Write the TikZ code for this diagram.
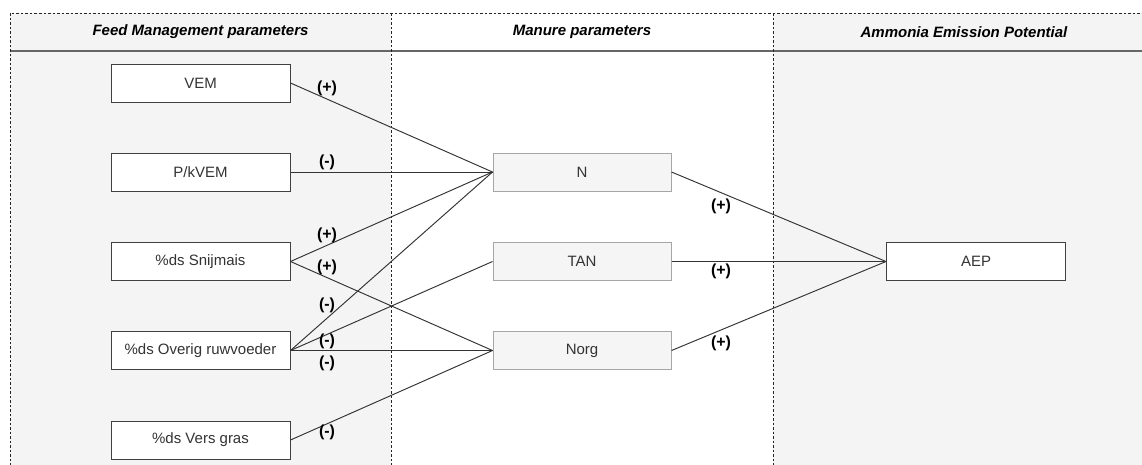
\documentclass[tikz,border=0pt]{standalone}
\usepackage{fontspec}
\setmainfont{Liberation Sans}
\begin{document}
\begin{tikzpicture}[x=1pt,y=-1pt,
  lane/.style={fill=lanegray,draw=none},
  hdr/.style={font=\fontsize{15}{17}\selectfont\bfseries\itshape},
  feedbox/.style={draw=black!75,line width=1pt,fill=white,minimum width=179pt,minimum height=38pt,font=\fontsize{15}{17}\selectfont,text=black!80,inner sep=0pt},
  manbox/.style={draw=black!35,line width=1pt,fill=boxgray,minimum width=178pt,minimum height=38pt,font=\fontsize{15}{17}\selectfont,text=black!80,inner sep=0pt},
  link/.style={draw=black!80,line width=0.95pt},
  sign/.style={font=\fontsize{16}{18}\selectfont\bfseries,inner sep=0pt},
  divider/.style={line width=0.7pt,dash pattern=on 2.5pt off 2pt,draw=black!85}]
\definecolor{lanegray}{HTML}{F4F4F4}
\definecolor{boxgray}{HTML}{F5F5F5}
\useasboundingbox (0,0) rectangle (1142,464);
% lanes
\fill[lanegray] (10,13) rectangle (391,470);
\fill[white] (391,13) rectangle (773,470);
\fill[lanegray] (773,13) rectangle (1150,470);
% header line
\draw[line width=1.4pt,draw=black!60] (10,51) -- (1150,51);
\draw[divider] (10,470) -- (10,13) -- (1150,13);
\draw[divider] (391,13) -- (391,470);
\draw[divider] (773,13) -- (773,470);
% headers
\node[hdr] (h1) at (200.5,32) {Feed Management parameters};
\node[hdr] (h2) at (582,32) {Manure parameters};
\node[hdr] (h3) at (964,32) {Ammonia Emission Potential};
% feed boxes
\node[feedbox] (vem) at (200.5,83) {VEM};
\node[feedbox] (pk) at (200.5,172) {P/kVEM};
\node[feedbox] (sn) at (200.5,261.5) {\%ds Snijmais};
\node[feedbox] (ov) at (200.5,350.5) {\%ds Overig ruwvoeder};
\node[feedbox] (vg) at (200.5,440) {\%ds Vers gras};
% manure boxes
\node[manbox] (n) at (582,172) {N};
\node[manbox] (tan) at (582,261.5) {TAN};
\node[manbox] (norg) at (582,350.5) {Norg};
% AEP
\node[feedbox] (aep) at (976,261.5) {AEP};
% links
\draw[link] (vem.east) -- (n.west);
\draw[link] (pk.east) -- (n.west);
\draw[link] (sn.east) -- (n.west);
\draw[link] (sn.east) -- (norg.west);
\draw[link] (ov.east) -- (n.west);
\draw[link] (ov.east) -- (tan.west);
\draw[link] (ov.east) -- (norg.west);
\draw[link] (vg.east) -- (norg.west);
\draw[link] (n.east) -- (aep.west);
\draw[link] (tan.east) -- (aep.west);
\draw[link] (norg.east) -- (aep.west);
% signs
\node[sign] (s1) at (327,88) {(+)};
\node[sign] (s2) at (327,162) {(-)};
\node[sign] (s3) at (327,235) {(+)};
\node[sign] (s4) at (327,267) {(+)};
\node[sign] (s5) at (327,305) {(-)};
\node[sign] (s6) at (327,341) {(-)};
\node[sign] (s7) at (327,363) {(-)};
\node[sign] (s8) at (327,432) {(-)};
\node[sign] (s9) at (721,206) {(+)};
\node[sign] (s10) at (721,271) {(+)};
\node[sign] (s11) at (721,343) {(+)};
\end{tikzpicture}
\end{document}
